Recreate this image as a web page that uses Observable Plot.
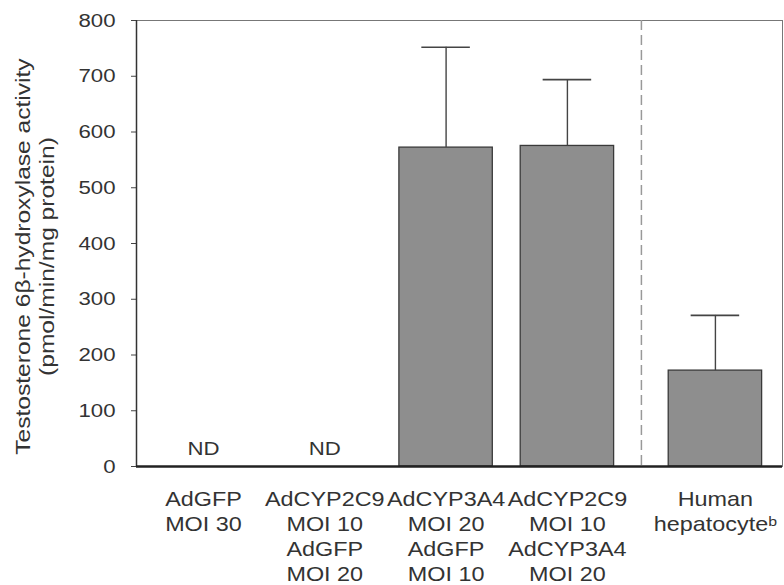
<!DOCTYPE html>
<html>
<head>
<meta charset="utf-8">
<script src="https://cdn.jsdelivr.net/npm/d3@7"></script>
<script src="https://cdn.jsdelivr.net/npm/@observablehq/plot@0.6"></script>
<style>
  html, body { margin: 0; padding: 0; background: #fff; }
  #chart { width: 784px; height: 585px; }
</style>
</head>
<body>
<div id="chart"></div>
<script>
// ---- data ----
const categories = [
  "AdGFP\nMOI 30",
  "AdCYP2C9\nMOI 10\nAdGFP\nMOI 20",
  "AdCYP3A4\nMOI 20\nAdGFP\nMOI 10",
  "AdCYP2C9\nMOI 10\nAdCYP3A4\nMOI 20",
  "Human\nhepatocyte\u1D47"
];
const groups = [0, 0, 0, 0, 1];          // 0 = transduced cells, 1 = reference hepatocytes
const means = [null, null, 572, 575, 172];
const sds = [null, null, 180, 119, 99];
const notes = ["ND", "ND", "", "", ""];
const yTicks = [0, 100, 200, 300, 400, 500, 600, 700, 800];
const yLabel = "Testosterone 6\u03B2-hydroxylase activity\n(pmol/min/mg protein)";

// ---- layout helpers ----
const groupGap = 0.22;
const halfBar = 0.385;
const halfCap = 0.2;
const xDomain = [0.448, 5.773];

const rows = categories.map((c, i) => ({
  cat: c,
  pos: i + 1 + groups[i] * groupGap,
  mean: means[i],
  sd: sds[i],
  note: notes[i]
}));
const bars = rows.filter(d => d.mean != null);
const divider = (rows[3].pos + rows[4].pos) / 2;
const labelOf = new Map(rows.map(d => [d.pos, d.cat]));

const chart = Plot.plot({
  width: 784,
  height: 585,
  marginLeft: 136,
  marginRight: 2,
  marginTop: 20,
  marginBottom: 119,
  x: {domain: xDomain},
  y: {domain: [0, 800]},
  style: {fontFamily: "'Liberation Sans', Arial, sans-serif", color: "#333", background: "#fff"},
  marks: [
    Plot.frame({stroke: "#777", strokeWidth: 1}),
    Plot.ruleX([divider], {stroke: "#999", strokeWidth: 1.5, strokeDasharray: "10,5"}),
    Plot.rectY(bars, {x1: d => d.pos - halfBar, x2: d => d.pos + halfBar, y: "mean",
      fill: "#8e8e8e", stroke: "#3a3a3a", strokeWidth: 1.3}),
    Plot.ruleX(bars, {x: "pos", y1: "mean", y2: d => d.mean + d.sd, stroke: "#444", strokeWidth: 1.4}),
    Plot.ruleY(bars, {y: d => d.mean + d.sd, x1: d => d.pos - halfCap, x2: d => d.pos + halfCap,
      stroke: "#444", strokeWidth: 1.6}),
    Plot.text(rows.filter(d => d.note), {x: "pos", y: 0, text: "note", dy: -18,
      fontSize: 19, fill: "#333"}),
    Plot.axisY({ticks: yTicks, tickSize: 5, tickPadding: 16, fontSize: 19, label: null,
      stroke: "#444"}),
    Plot.axisX({ticks: rows.map(d => d.pos), tickFormat: v => labelOf.get(v), tickSize: 0,
      tickPadding: 22, fontSize: 20, lineHeight: 1.25, label: null}),
    Plot.text([yLabel], {frameAnchor: "left", textAnchor: "middle", lineAnchor: "middle",
      rotate: -90, dx: -102, dy: 13, fontSize: 21, lineHeight: 1.12, fill: "#333"}),
    Plot.ruleX([xDomain[0]], {stroke: "#333", strokeWidth: 1.5}),
    Plot.ruleY([0], {stroke: "#222", strokeWidth: 2.5})
  ]
});

document.getElementById("chart").appendChild(chart);

// The scanned reference has horizontally stretched lettering; widen text about its anchor.
const stretch = 1.17;
chart.querySelectorAll("text").forEach(t => {
  const bb = t.getBBox();
  const anchor = getComputedStyle(t).textAnchor;
  const ax = anchor === "end" ? bb.x + bb.width : anchor === "middle" ? bb.x + bb.width / 2 : bb.x;
  const tr = t.getAttribute("transform") || "";
  t.setAttribute("transform", `${tr} translate(${ax},0) scale(${stretch},1) translate(${-ax},0)`);
});
</script>
</body>
</html>
